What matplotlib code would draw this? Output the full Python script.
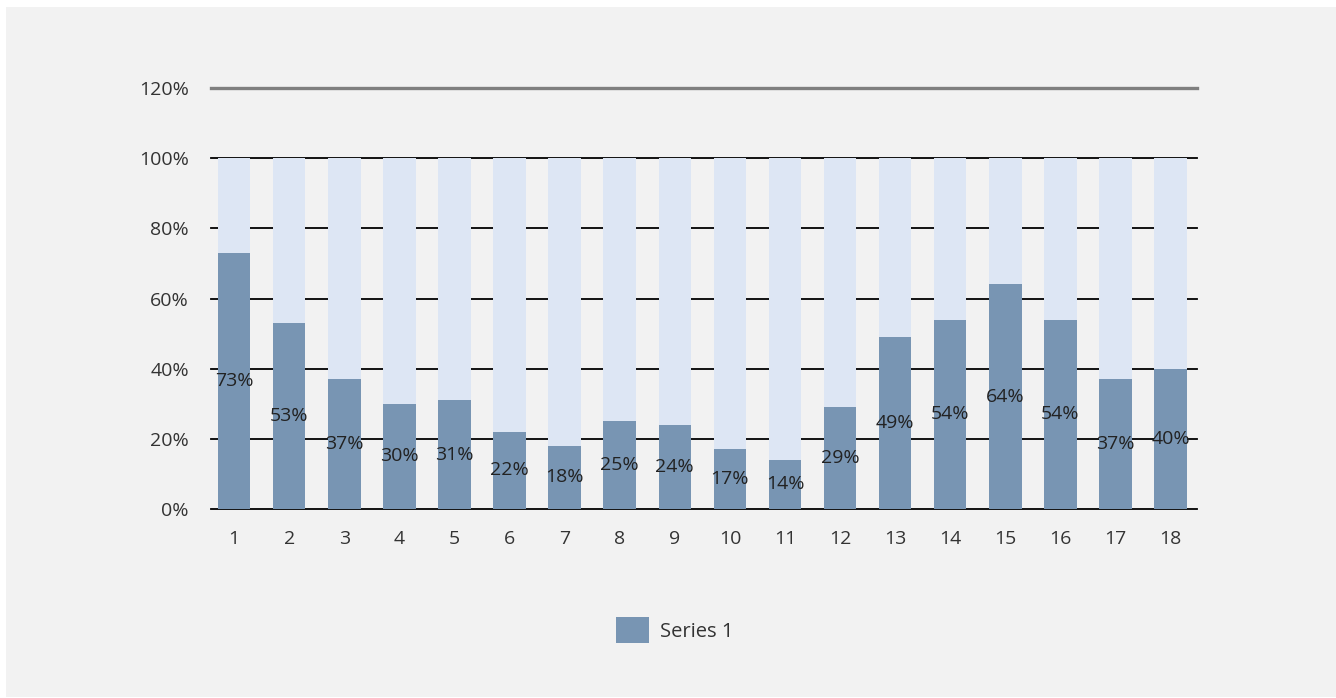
import numpy as np
import matplotlib.pyplot as plt
from matplotlib.patches import Rectangle

categories = [str(i) for i in range(1, 19)]
series1 = [73, 53, 37, 30, 31, 22, 18, 25, 24, 17, 14, 29, 49, 54, 64, 54, 37, 40]
rest = [100 - v for v in series1]
yticks = [0, 20, 40, 60, 80, 100, 120]
ytick_labels = ['0%', '20%', '40%', '60%', '80%', '100%', '120%']

dark = '#7895b3'
light = '#dde6f4'
bg = '#f2f2f2'

plt.rcParams['font.family'] = ['Open Sans', 'DejaVu Sans']

fig = plt.figure(figsize=(13.36, 6.98), dpi=100, facecolor='white')
fig.patches.append(Rectangle((6 / 1336, 1 / 698), 1330 / 1336, 690 / 698,
                             transform=fig.transFigure, facecolor=bg,
                             edgecolor='none', zorder=-10))
ax = fig.add_axes([211 / 1336, 1 - 509 / 698, 986 / 1336, 421 / 698])
ax.set_facecolor('none')

x = np.arange(1, len(categories) + 1)
w = 0.59
ax.bar(x, series1, width=w, color=dark, zorder=3, label='Series 1')
ax.bar(x, rest, bottom=series1, width=w, color=light, zorder=2)

# value labels sit in the middle of the dark part
for xi, v in zip(x, series1):
    ax.text(xi, v / 2, f'{v}%', ha='center', va='center', fontsize=14,
            color='#222222', zorder=5)

for t in yticks[:-1]:
    ax.axhline(t, color='black', lw=1.3, zorder=1, clip_on=False)
ax.axhline(120, color='#7f7f7f', lw=2.4, zorder=1, clip_on=False)

ax.set_xlim(0.58, 18.48)
ax.set_ylim(0, 120)
ax.set_xticks(x)
ax.set_xticklabels(categories)
ax.set_yticks(yticks)
ax.set_yticklabels(ytick_labels)
ax.tick_params(axis='both', length=0, labelsize=14, labelcolor='#333333')
ax.tick_params(axis='x', pad=15)
ax.tick_params(axis='y', pad=16)
for s in ax.spines.values():
    s.set_visible(False)

leg = fig.legend(handles=[ax.containers[0]], labels=['Series 1'],
                 loc='center', bbox_to_anchor=(675 / 1336, 1 - 630 / 698),
                 frameon=False, fontsize=14.5, handlelength=1.65, handleheight=1.65,
                 handletextpad=0.55)
for t in leg.get_texts():
    t.set_color('#333333')

fig.savefig('out.png', dpi=100, facecolor='white')
